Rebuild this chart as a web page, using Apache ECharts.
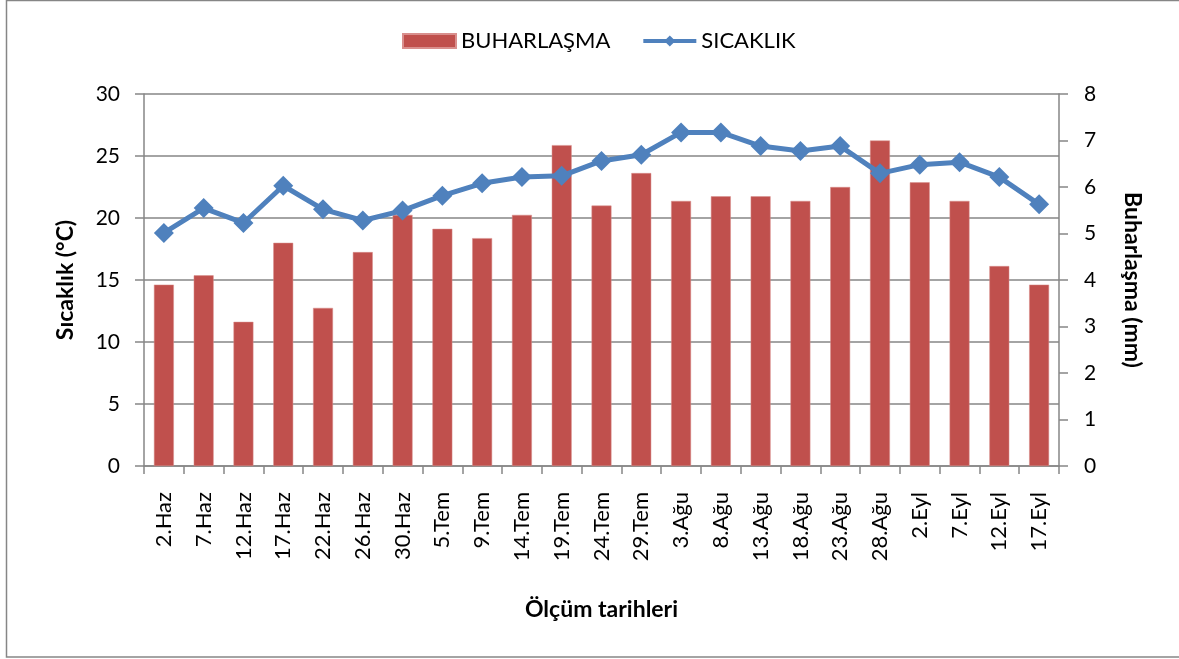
<!DOCTYPE html>
<html><head><meta charset="utf-8">
<script src="https://cdn.jsdelivr.net/npm/echarts@6/dist/echarts.min.js"></script>
<style>html,body{margin:0;padding:0;background:#fff}#c{width:1179px;height:659px}</style>
</head><body><div id="c"></div>
<script>
const categories = ['2.Haz','7.Haz','12.Haz','17.Haz','22.Haz','26.Haz','30.Haz','5.Tem','9.Tem','14.Tem','19.Tem','24.Tem','29.Tem','3.Ağu','8.Ağu','13.Ağu','18.Ağu','23.Ağu','28.Ağu','2.Eyl','7.Eyl','12.Eyl','17.Eyl'];
const buharlasma = [3.9,4.1,3.1,4.8,3.4,4.6,5.4,5.1,4.9,5.4,6.9,5.6,6.3,5.7,5.8,5.8,5.7,6.0,7.0,6.1,5.7,4.3,3.9];
const sicaklik = [18.8,20.8,19.6,22.6,20.7,19.8,20.6,21.8,22.8,23.3,23.4,24.6,25.1,26.9,26.9,25.8,25.4,25.8,23.6,24.3,24.5,23.3,21.1];
const leftTicks = {min:0,max:30,interval:5};
const rightTicks = {min:0,max:8,interval:1};

const FONT = 'Lato, "Open Sans", sans-serif';
const GRAY = '#868686';
const chart = echarts.init(document.getElementById('c'), null, {renderer:'canvas'});
chart.setOption({
  animation:false,
  textStyle:{fontFamily:FONT},
  graphic:[{type:'rect',shape:{x:6.5,y:0.5,width:1190,height:656.5},style:{fill:null,stroke:GRAY,lineWidth:1.5},silent:true}],
  legend:{
    left:397, top:25, itemGap:31, itemWidth:53, itemHeight:14,
    textStyle:{fontFamily:FONT,fontSize:22,color:'#000'},
    data:[{name:'BUHARLAŞMA',icon:'rect'},
          {name:'SICAKLIK',lineStyle:{width:4,color:'#4F81BD'},itemStyle:{color:'#4F81BD'}}]
  },
  grid:{left:144,right:120,top:94,bottom:193},
  xAxis:{
    type:'category', data:categories, boundaryGap:true,
    name:'Ölçüm tarihleri', nameLocation:'middle', nameGap:132,
    nameTextStyle:{fontFamily:FONT,fontSize:23,fontWeight:'bold',color:'#000'},
    axisLine:{lineStyle:{color:GRAY,width:1.5}},
    axisTick:{show:true,length:8,lineStyle:{color:GRAY,width:1.5},alignWithLabel:false},
    axisLabel:{rotate:90,margin:26,fontSize:22,color:'#000',fontFamily:FONT,interval:0}
  },
  yAxis:[{
    type:'value', position:'left', min:leftTicks.min, max:leftTicks.max, interval:leftTicks.interval,
    name:'Sıcaklık (°C)', nameLocation:'middle', nameGap:67, nameRotate:90,
    nameTextStyle:{fontFamily:FONT,fontSize:23,fontWeight:'bold',color:'#000'},
    axisLine:{show:true,lineStyle:{color:GRAY,width:1.5}},
    axisTick:{show:true,length:9,lineStyle:{color:GRAY,width:1.5}},
    axisLabel:{margin:24,fontSize:21,color:'#000',fontFamily:FONT},
    splitLine:{show:true,lineStyle:{color:GRAY,width:1.5}}
  },{
    type:'value', position:'right', min:rightTicks.min, max:rightTicks.max, interval:rightTicks.interval,
    name:'Buharlaşma (mm)', nameLocation:'middle', nameGap:62, nameRotate:-90,
    nameTextStyle:{fontFamily:FONT,fontSize:23,fontWeight:'bold',color:'#000'},
    axisLine:{show:true,lineStyle:{color:GRAY,width:1.5}},
    axisTick:{show:true,length:9,lineStyle:{color:GRAY,width:1.5}},
    axisLabel:{margin:25,fontSize:21,color:'#000',fontFamily:FONT},
    splitLine:{show:false}
  }],
  series:[{
    name:'BUHARLAŞMA', type:'bar', yAxisIndex:1, data:buharlasma,
    barCategoryGap:'50%', itemStyle:{color:'#C0504D',borderColor:'#D98F8D',borderWidth:0.5}
  },{
    name:'SICAKLIK', type:'line', yAxisIndex:0, data:sicaklik,
    symbol:'diamond', symbolSize:20,
    lineStyle:{color:'#4F81BD',width:5}, itemStyle:{color:'#4F81BD'}
  }]
});
</script></body></html>
